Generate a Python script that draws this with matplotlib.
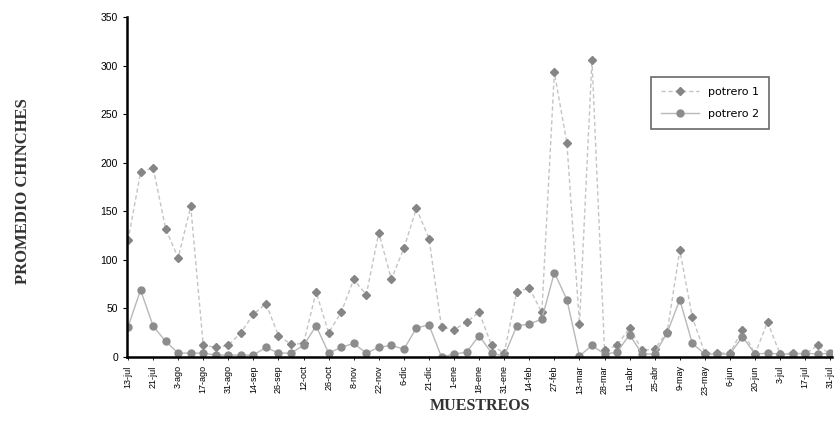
import numpy as np
import matplotlib.pyplot as plt

# sampling dates (every other sample is labelled)
fechas = ['13-jul', '21-jul', '3-ago', '17-ago', '31-ago', '14-sep', '26-sep',
          '12-oct', '26-oct', '8-nov', '22-nov', '6-dic', '21-dic', '1-ene',
          '18-ene', '31-ene', '14-feb', '27-feb', '13-mar', '28-mar', '11-abr',
          '25-abr', '9-may', '23-may', '6-jun', '20-jun', '3-jul', '17-jul', '31-jul']

potrero1 = [120, 190, 195, 132, 102, 155, 12, 10, 12, 25, 44, 55, 22, 13, 14,
            67, 25, 46, 80, 64, 128, 80, 112, 153, 122, 31, 28, 36, 46, 12,
            4, 67, 71, 46, 293, 220, 34, 306, 7, 12, 30, 7, 8, 26, 110, 41,
            4, 4, 4, 28, 3, 36, 3, 4, 3, 12, 3]
potrero2 = [31, 69, 32, 16, 4, 4, 4, 2, 2, 2, 2, 10, 4, 4, 12,
            32, 4, 10, 14, 4, 10, 12, 8, 30, 33, 0, 3, 5, 22, 4,
            1, 32, 34, 39, 87, 59, 1, 12, 3, 5, 23, 3, 3, 25, 59, 14,
            3, 3, 3, 21, 3, 4, 3, 3, 4, 3, 4]

x = np.arange(len(potrero1))

fig = plt.figure(figsize=(8.34, 4.29), dpi=100)
ax = fig.add_axes([0.1523, 0.1678, 0.845, 0.7925])

ax.plot(x, potrero1, color='#c4c4c4', linewidth=1, linestyle=(0, (3, 2)),
        marker='D', markersize=4, markerfacecolor='#858585',
        markeredgecolor='#858585', label='potrero 1')
ax.plot(x, potrero2, color='#b8b8b8', linewidth=1,
        marker='o', markersize=5, markerfacecolor='#8c8c8c',
        markeredgecolor='#8c8c8c', label='potrero 2')

ax.set_xlim(-0.08, 56.12)
ax.set_ylim(0, 350)
ax.set_yticks(range(0, 351, 50))
ax.set_xticks(x[::2])
ax.set_xticklabels(fechas, rotation=90, fontsize=6.5, family='Liberation Sans')
ax.tick_params(axis='y', labelsize=7.5, length=3, width=0.8)
ax.tick_params(axis='x', length=2, width=0.6, pad=4)
for lab in ax.get_yticklabels():
    lab.set_family('Liberation Sans')

ax.spines['top'].set_visible(False)
ax.spines['right'].set_visible(False)
ax.spines['left'].set_linewidth(1.8)
ax.spines['bottom'].set_linewidth(1.8)

fig.text(0.027, 0.555, 'PROMEDIO CHINCHES', rotation=90, ha='center', va='center',
         family='Liberation Serif', fontsize=12, fontweight='bold', color='#333333')
fig.text(0.576, 0.054, 'MUESTREOS', ha='center', va='center',
         family='Liberation Serif', fontsize=11.5, fontweight='bold', color='#333333')

leg = ax.legend(loc='upper left', bbox_to_anchor=(0.735, 0.84), fontsize=8,
                frameon=True, fancybox=False, edgecolor='#444444',
                handlelength=3.5, borderpad=0.9, labelspacing=1.1)
leg.get_frame().set_linewidth(1.2)

fig.savefig('out.png', dpi=100)
